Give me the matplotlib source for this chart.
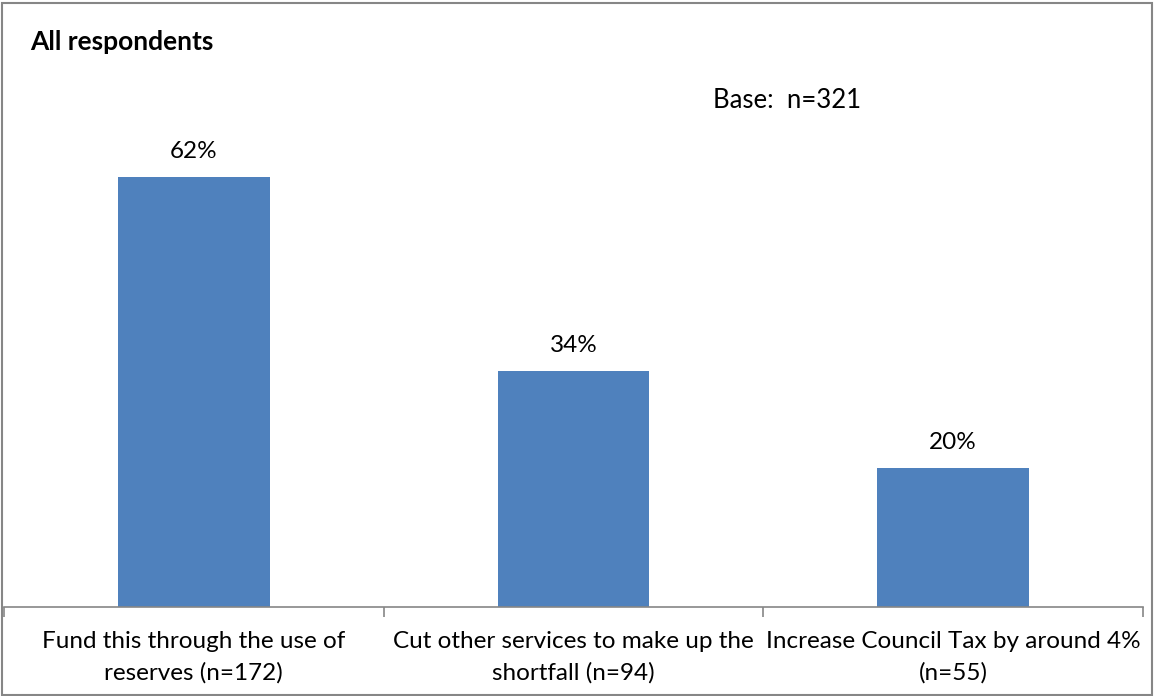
import matplotlib
matplotlib.use("Agg")
import matplotlib.pyplot as plt
from matplotlib.patches import Rectangle

categories = ["Fund this through the use of\nreserves (n=172)",
              "Cut other services to make up the\nshortfall (n=94)",
              "Increase Council Tax by around 4%\n(n=55)"]
values = [62, 34, 20]
value_labels = ["62%", "34%", "20%"]

plt.rcParams['font.family'] = ['Lato', 'DejaVu Sans']

fig = plt.figure(figsize=(11.54, 6.96), dpi=100)
ax = fig.add_axes([4/1154, 89/696, 1139/1154, 485/696])

x = list(range(len(categories)))
bars = ax.bar(x, values, width=0.4, color="#4F81BD", zorder=2)
for xi, v, lab in zip(x, values, value_labels):
    ax.annotate(lab, (xi, v), xytext=(0, 11), textcoords="offset points",
                ha="center", va="bottom", fontsize=17.5, color="black")

ax.set_xlim(-0.5, len(categories) - 0.5)
ax.set_ylim(0, 70)
ax.set_yticks([])
for s in ["top", "right", "left"]:
    ax.spines[s].set_visible(False)
ax.spines["bottom"].set_color("#868686")
ax.spines["bottom"].set_linewidth(1.2)

ax.set_xticks([i - 0.5 for i in range(len(categories) + 1)], minor=False)
ax.set_xticklabels([])
ax.tick_params(axis="x", which="major", length=7, color="#868686", width=1.2)
ax.set_xticks(x, minor=True)
ax.set_xticklabels(categories, minor=True, fontsize=17.5, linespacing=1.62)
ax.tick_params(axis="x", which="minor", length=0, pad=17)

fig.text(30/1154, 1 - 42/696, "All respondents", fontsize=19, fontweight="bold",
         ha="left", va="center")
fig.text(787/1154, 1 - 100/696, "Base:  n=321", fontsize=18.5, ha="center", va="center")

fig.patches.append(Rectangle((1.5/1154, 1.5/696), 1150/1154, 692/696,
                             transform=fig.transFigure, fill=False,
                             edgecolor="#868686", linewidth=1.5))

fig.savefig("out.png", dpi=100)
